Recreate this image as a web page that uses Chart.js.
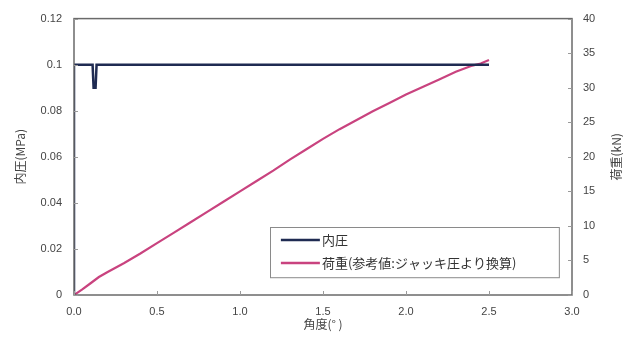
<!DOCTYPE html>
<html>
<head>
<meta charset="utf-8">
<script src="https://cdn.jsdelivr.net/npm/chart.js@4/dist/chart.umd.min.js"></script>
<style>
  html, body { margin: 0; padding: 0; background: #ffffff; }
  #wrap { width: 623px; height: 356px; }
</style>
</head>
<body>
<div id="wrap"><canvas id="c" width="623" height="356"></canvas></div>
<script>
// Rotation angle (deg) and internal pressure (MPa)
const pressureAngle = [0, 0, 0.112, 0.118, 0.13, 0.136, 2.5];
const pressureMPa   = [0, 0.1, 0.1, 0.09, 0.09, 0.1, 0.1];

// Rotation angle (deg) and load (kN), converted from jack pressure
const loadAngle = [0, 0.05, 0.1, 0.15, 0.2, 0.3, 0.4, 0.5, 0.6, 0.7, 0.8, 0.9, 1.0,
                   1.1, 1.2, 1.3, 1.4, 1.5, 1.6, 1.7, 1.8, 1.9, 2.0, 2.1, 2.2, 2.3,
                   2.4, 2.45, 2.5];
const loadKN    = [0, 0.8, 1.7, 2.6, 3.3, 4.6, 6.0, 7.5, 9.0, 10.5, 12.0, 13.5, 15.0,
                   16.5, 18.0, 19.6, 21.1, 22.6, 24.0, 25.3, 26.6, 27.8, 29.0, 30.1, 31.2, 32.3,
                   33.2, 33.5, 34.0];

const seriesNames = ['内圧', '荷重(参考値:ジャッキ圧より換算)'];
const seriesColors = ['#1f2b52', '#c9437f'];

const xTicks = [0, 0.5, 1.0, 1.5, 2.0, 2.5, 3.0];
const pressureTicks = [0, 0.02, 0.04, 0.06, 0.08, 0.1, 0.12];
const loadTicks = [0, 5, 10, 15, 20, 25, 30, 35, 40];

const xTitle = '角度(° )';
const pressureTitle = '内圧(MPa)';
const loadTitle = '荷重(kN)';

const toXY = (xs, ys) => xs.map((x, i) => ({ x: x, y: ys[i] }));

const tickFont = { family: '"Liberation Sans", Arial, sans-serif', size: 11 };
const jpFont = { family: '"Noto Sans CJK JP", sans-serif', size: 12 };
const textColor = '#444444';
const frameColor = '#6a6a6a';

// Plot frame with short inward tick marks
const framePlugin = {
  id: 'frame',
  afterDatasetsDraw(chart) {
    const { ctx, chartArea: a, scales } = chart;
    ctx.save();
    ctx.strokeStyle = frameColor;
    ctx.lineWidth = 1.5;
    ctx.strokeRect(a.left, a.top, a.right - a.left, a.bottom - a.top);
    ctx.lineWidth = 1;
    ctx.strokeStyle = '#9a9a9a';
    ctx.beginPath();
    xTicks.forEach(v => {
      const px = Math.round(scales.x.getPixelForValue(v)) + 0.5;
      ctx.moveTo(px, a.bottom); ctx.lineTo(px, a.bottom - 4);
    });
    pressureTicks.forEach(v => {
      const py = Math.round(scales.y.getPixelForValue(v)) + 0.5;
      ctx.moveTo(a.left, py); ctx.lineTo(a.left + 4, py);
    });
    loadTicks.forEach(v => {
      const py = Math.round(scales.y2.getPixelForValue(v)) + 0.5;
      ctx.moveTo(a.right, py); ctx.lineTo(a.right - 4, py);
    });
    ctx.stroke();
    ctx.restore();
  }
};

// Right axis title, reading bottom to top like the left one
const rightTitlePlugin = {
  id: 'rightTitle',
  afterDraw(chart) {
    const { ctx, chartArea: a } = chart;
    ctx.save();
    ctx.translate(616, (a.top + a.bottom) / 2);
    ctx.rotate(-Math.PI / 2);
    ctx.font = '12px "Noto Sans CJK JP", sans-serif';
    ctx.fillStyle = textColor;
    ctx.textAlign = 'center';
    ctx.textBaseline = 'middle';
    ctx.fillText(loadTitle, 0, 0);
    ctx.restore();
  }
};

// Boxed legend inside the lower right of the plot
const legendPlugin = {
  id: 'boxLegend',
  afterDraw(chart) {
    const { ctx, scales } = chart;
    const left = scales.x.getPixelForValue(1.18);
    const right = scales.x.getPixelForValue(2.92);
    const top = scales.y.getPixelForValue(0.0295);
    const bottom = scales.y.getPixelForValue(0.0077);
    ctx.save();
    ctx.fillStyle = '#ffffff';
    ctx.fillRect(left, top, right - left, bottom - top);
    ctx.strokeStyle = '#8a8a8a';
    ctx.lineWidth = 1;
    ctx.strokeRect(Math.round(left) + 0.5, Math.round(top) + 0.5, right - left, bottom - top);
    ctx.font = '13px "Noto Sans CJK JP", sans-serif';
    ctx.textBaseline = 'middle';
    chart.data.datasets.forEach((ds, i) => {
      const y = top + 13 + i * 23;
      ctx.strokeStyle = ds.borderColor;
      ctx.lineWidth = 2.5;
      ctx.beginPath();
      ctx.moveTo(left + 11, y);
      ctx.lineTo(left + 50, y);
      ctx.stroke();
      ctx.fillStyle = '#333333';
      ctx.fillText(ds.label, left + 52, y);
    });
    ctx.restore();
  }
};

new Chart(document.getElementById('c'), {
  type: 'line',
  data: {
    datasets: [
      {
        label: seriesNames[0],
        data: toXY(pressureAngle, pressureMPa),
        yAxisID: 'y',
        borderColor: seriesColors[0],
        borderWidth: 2.5,
        pointRadius: 0,
        tension: 0,
        fill: false
      },
      {
        label: seriesNames[1],
        data: toXY(loadAngle, loadKN),
        yAxisID: 'y2',
        borderColor: seriesColors[1],
        borderWidth: 2.2,
        pointRadius: 0,
        tension: 0,
        fill: false
      }
    ]
  },
  options: {
    responsive: false,
    animation: false,
    devicePixelRatio: 1,
    layout: { padding: { top: 16, left: 0, right: 0, bottom: 0 } },
    plugins: {
      legend: { display: false },
      tooltip: { enabled: false }
    },
    scales: {
      x: {
        type: 'linear',
        min: 0, max: 3,
        afterBuildTicks: s => { s.ticks = xTicks.map(v => ({ value: v })); },
        afterFit: s => { s.height = 61; },
        grid: { display: false, drawTicks: false },
        border: { display: false },
        ticks: {
          padding: 10,
          font: tickFont,
          color: textColor,
          maxRotation: 0,
          callback: v => Number(v).toFixed(1)
        },
        title: {
          display: true,
          text: xTitle,
          font: jpFont,
          color: textColor,
          padding: { top: 0, bottom: 24 }
        }
      },
      y: {
        type: 'linear',
        position: 'left',
        min: 0, max: 0.12,
        afterBuildTicks: s => { s.ticks = pressureTicks.map(v => ({ value: v })); },
        afterFit: s => { s.width = 74; },
        grid: { display: false, drawTicks: false },
        border: { display: false },
        ticks: {
          padding: 12,
          font: tickFont,
          color: textColor,
          callback: v => String(Number(Number(v).toFixed(2)))
        },
        title: {
          display: true,
          text: pressureTitle,
          font: jpFont,
          color: textColor,
          padding: { top: 13, bottom: 0 }
        }
      },
      y2: {
        type: 'linear',
        position: 'right',
        min: 0, max: 40,
        afterBuildTicks: s => { s.ticks = loadTicks.map(v => ({ value: v })); },
        afterFit: s => { s.width = 51; },
        grid: { display: false, drawTicks: false },
        border: { display: false },
        ticks: {
          padding: 11,
          font: tickFont,
          color: textColor,
          callback: v => String(v)
        }
      }
    }
  },
  plugins: [framePlugin, rightTitlePlugin, legendPlugin]
});
</script>
</body>
</html>
